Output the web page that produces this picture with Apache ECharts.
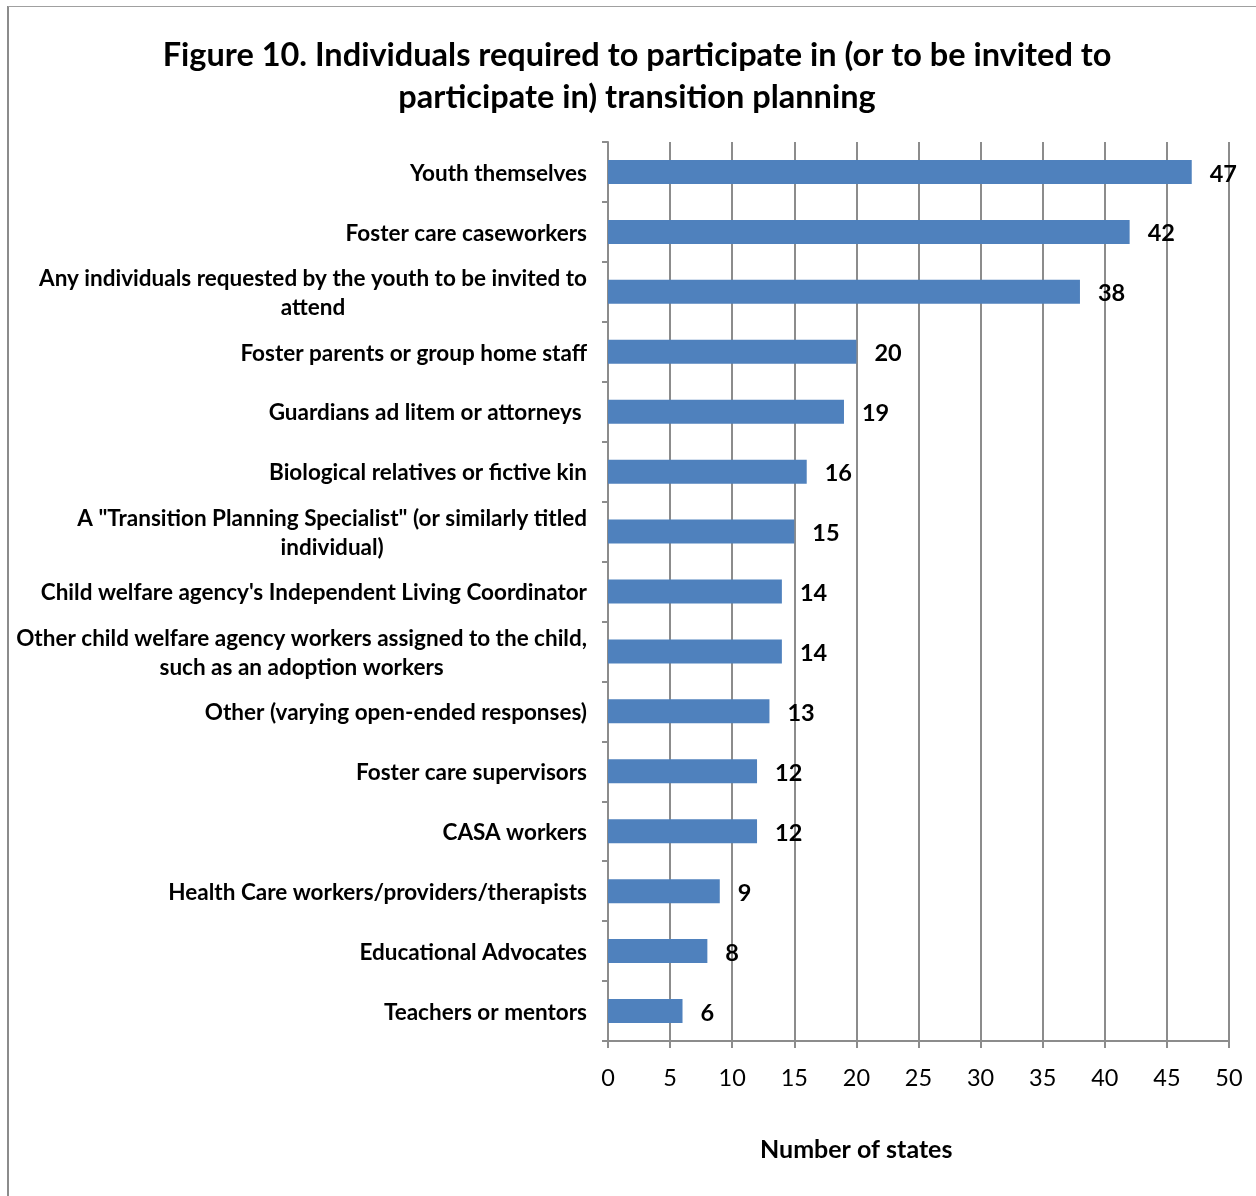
<!DOCTYPE html>
<html>
<head>
<meta charset="utf-8">
<script src="https://cdn.jsdelivr.net/npm/echarts@6/dist/echarts.min.js"></script>
<style>
html,body{margin:0;padding:0;background:#fff;}
#chart{width:1256px;height:1196px;}
</style>
</head>
<body>
<div id="chart"></div>
<script>
const titleText = 'Figure 10. Individuals required to participate in (or to be invited to\nparticipate in) transition planning';
const categories = [
  'Youth themselves',
  'Foster care caseworkers',
  'Any individuals requested by the youth to be invited to\nattend',
  'Foster parents or group home staff',
  'Guardians ad litem or attorneys ',
  'Biological relatives or fictive kin',
  'A "Transition Planning Specialist" (or similarly titled\nindividual)',
  "Child welfare agency's Independent Living Coordinator",
  'Other child welfare agency workers assigned to the child,\nsuch as an adoption workers',
  'Other (varying open-ended responses)',
  'Foster care supervisors',
  'CASA workers',
  'Health Care workers/providers/therapists',
  'Educational Advocates',
  'Teachers or mentors'
];
const values = [47, 42, 38, 20, 19, 16, 15, 14, 14, 13, 12, 12, 9, 8, 6];
const xAxisName = 'Number of states';
const xMin = 0, xMax = 50, xInterval = 5;

const FONT = 'Lato';
const chart = echarts.init(document.getElementById('chart'));
chart.setOption({
  animation: false,
  backgroundColor: '#fff',
  title: {
    text: titleText,
    left: 632,
    top: 30,
    textAlign: 'center',
    textStyle: {fontFamily: FONT, fontWeight: 'bold', fontSize: 32.5, lineHeight: 42, color: '#000'}
  },
  grid: {left: 608, right: 27, top: 142, bottom: 155, containLabel: false},
  xAxis: {
    type: 'value', min: xMin, max: xMax, interval: xInterval,
    axisLine: {show: true, lineStyle: {color: '#8c8c8c', width: 2}},
    axisTick: {show: true, length: 7, lineStyle: {color: '#8c8c8c', width: 2}},
    splitLine: {show: true, lineStyle: {color: '#8c8c8c', width: 2}},
    axisLabel: {margin: 25, fontFamily: FONT, fontSize: 23.5, color: '#000'}
  },
  yAxis: {
    type: 'category', data: categories, inverse: true,
    axisLine: {show: true, lineStyle: {color: '#8c8c8c', width: 2}},
    axisTick: {show: true, length: 6, lineStyle: {color: '#8c8c8c', width: 2}},
    axisLabel: {
      margin: 21, align: 'right', fontFamily: FONT, fontWeight: 'bold', fontSize: 22.5, color: '#000',
      formatter: function (v) { return v.split('\n').map(l => '{c|' + l + '}').join('\n'); },
      rich: {c: {align: 'center', fontFamily: FONT, fontWeight: 'bold', fontSize: 22.5, lineHeight: 29, color: '#000', padding: [3, 0, 0, 0]}}
    }
  },
  series: [{
    type: 'bar', data: values, barWidth: 24,
    itemStyle: {color: '#4F81BD'},
    label: {show: true, position: 'right', distance: 18, offset: [0, 2], fontFamily: FONT, fontWeight: 'bold', fontSize: 23.5, color: '#000'}
  }],
  graphic: [
    {type: 'line', shape: {x1: 8, y1: 6, x2: 8, y2: 1196}, style: {stroke: '#8c8c8c', lineWidth: 2}},
    {type: 'line', shape: {x1: 8, y1: 6.5, x2: 1256, y2: 6.5}, style: {stroke: '#a0a0a0', lineWidth: 1}},
    {type: 'text', left: 760, top: 1137, style: {text: xAxisName, fontFamily: FONT, fontWeight: 'bold', fontSize: 25, fill: '#000'}}
  ]
});
</script>
</body>
</html>
